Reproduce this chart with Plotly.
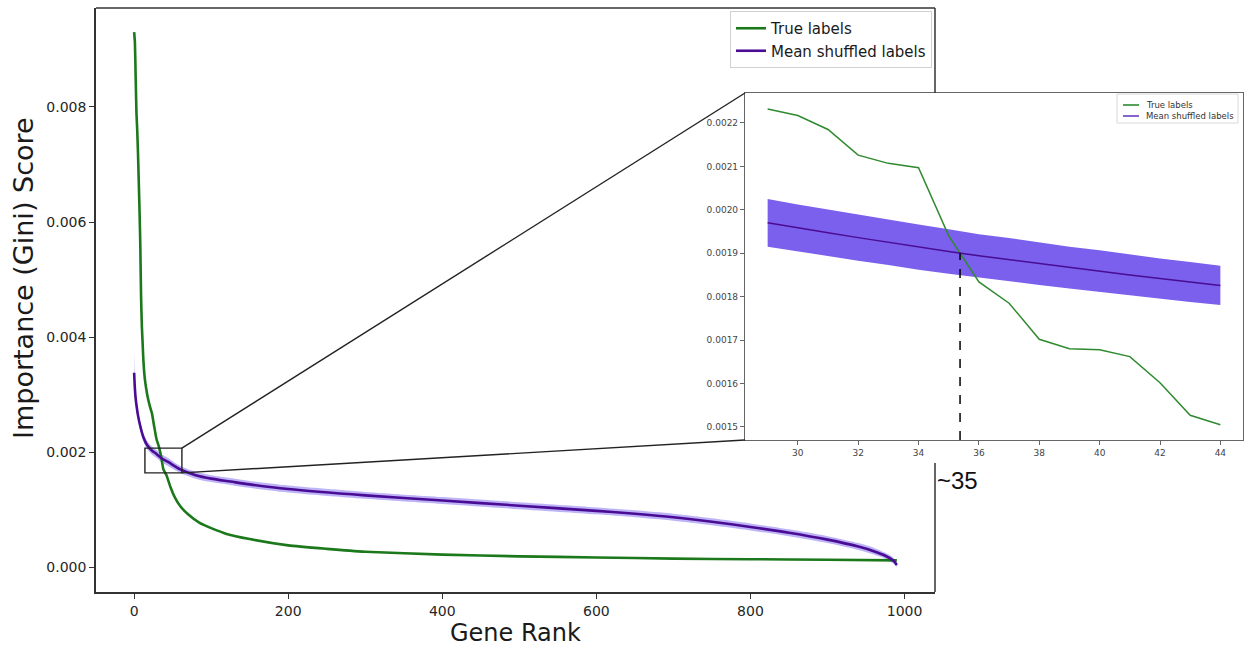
import plotly.graph_objects as go

W, H = 1244, 647

# ---- full ranking (main panel) ----
rank_true = [0, 1, 2, 3, 4, 5, 6, 7, 8, 9, 10, 11, 12, 14, 17, 20, 23, 26, 29, 32, 35,
             38, 42, 47, 53, 60, 70, 85, 100, 120, 150, 200, 250, 300, 400, 500, 600,
             700, 800, 900, 990]
score_true = [0.00930, 0.00912, 0.00850, 0.00790, 0.00760, 0.00720, 0.00670, 0.00620,
              0.00560, 0.00470, 0.00420, 0.00390, 0.00360, 0.00326, 0.00300, 0.00282,
              0.00268, 0.00245, 0.00223, 0.00210, 0.00193, 0.00170, 0.00160, 0.00140,
              0.00121, 0.00106, 0.00092, 0.00077, 0.00068, 0.00058, 0.00049, 0.00038,
              0.00032, 0.00027, 0.00022, 0.00019, 0.00017, 0.00015, 0.00014, 0.00013,
              0.00012]

rank_shuf = [0, 1, 2, 3, 5, 8, 12, 17, 23, 29, 36, 44, 60, 80, 100, 125, 150, 200, 300,
             400, 500, 600, 650, 700, 750, 800, 850, 900, 940, 960, 975, 985, 990]
score_shuf = [0.00338, 0.00310, 0.00293, 0.00282, 0.00264, 0.00245, 0.00226, 0.00212,
              0.00203, 0.00197, 0.00189, 0.00183, 0.00170, 0.00160, 0.00154, 0.00149,
              0.00144, 0.00136, 0.00125, 0.00116, 0.00107, 0.00098, 0.00093, 0.00087,
              0.00079, 0.00070, 0.00060, 0.00048, 0.00036, 0.00028, 0.00020, 0.00012,
              0.00004]
std_shuf = [0.00037, 0.00017, 0.00012, 0.00010, 0.00009, 0.00008, 0.00007, 0.00007,
            0.00007, 0.00007, 0.00007, 0.00007, 0.00006, 0.00006, 0.00006, 0.00006,
            0.00006, 0.00006, 0.00006, 0.00006, 0.00006, 0.00006, 0.00006, 0.00006,
            0.00006, 0.00006, 0.00006, 0.00006, 0.00006, 0.00006, 0.00005, 0.00005,
            0.00004]

# ---- zoomed ranks 29-44 (inset) ----
zoom_rank = [29, 30, 31, 32, 33, 34, 35, 36, 37, 38, 39, 40, 41, 42, 43, 44]
zoom_true = [0.002232, 0.002217, 0.002185, 0.002126, 0.002107, 0.002097, 0.001940,
             0.001834, 0.001785, 0.001702, 0.001680, 0.001678, 0.001662, 0.001602,
             0.001527, 0.001505]
zoom_shuf = [0.001970, 0.001958, 0.001947, 0.001936, 0.001925, 0.001914, 0.001904,
             0.001894, 0.001885, 0.001876, 0.001867, 0.001859, 0.001850, 0.001842,
             0.001834, 0.001826]
zoom_std = [0.000055, 0.000054, 0.000054, 0.000053, 0.000052, 0.000052, 0.000051,
            0.000050, 0.000050, 0.000049, 0.000048, 0.000048, 0.000047, 0.000046,
            0.000046, 0.000045]

series_names = ["True labels", "Mean shuffled labels"]

main_xticks = [0, 200, 400, 600, 800, 1000]
main_yticks = [0.000, 0.002, 0.004, 0.006, 0.008]
zoom_xticks = [30, 32, 34, 36, 38, 40, 42, 44]
zoom_yticks = [0.0015, 0.0016, 0.0017, 0.0018, 0.0019, 0.0020, 0.0021, 0.0022]

# zoom window marked on the main panel
box_rank = (14, 62)
box_score = (0.00164, 0.00207)

GREEN = "#1b781b"
GREEN_ZOOM = "#2f8a2f"
PURPLE = "#4a0c94"
BAND_MAIN = "rgba(123,104,238,0.5)"
BAND_ZOOM = "#7a60ec"
AXIS = "#333333"
FONT = "DejaVu Sans"

MAIN_X = [-49.5, 1039.5]
MAIN_Y = [-0.00043, 0.00972]
ZOOM_X = [28.25, 44.75]
ZOOM_Y = [0.00147, 0.002269]

# pixel layout of the two panels
main_px = dict(l=96, r=935, t=8, b=592)
zoom_px = dict(l=745, r=1243, t=93, b=440)


def px(x):
    return x / W


def py(y):
    return 1 - y / H


def main_to_px(xv, yv):
    fx = (xv - MAIN_X[0]) / (MAIN_X[1] - MAIN_X[0])
    fy = (yv - MAIN_Y[0]) / (MAIN_Y[1] - MAIN_Y[0])
    return (main_px["l"] + fx * (main_px["r"] - main_px["l"]),
            main_px["b"] - fy * (main_px["b"] - main_px["t"]))


fig = go.Figure()

# main panel: shuffled band, then lines
up = [m + s for m, s in zip(score_shuf, std_shuf)]
lo = [m - s for m, s in zip(score_shuf, std_shuf)]
fig.add_trace(go.Scatter(x=rank_shuf, y=up, mode="lines",
                         line=dict(width=0, shape="spline", smoothing=0.8),
                         showlegend=False, hoverinfo="skip"))
fig.add_trace(go.Scatter(x=rank_shuf, y=lo, mode="lines",
                         line=dict(width=0, shape="spline", smoothing=0.8),
                         fill="tonexty", fillcolor=BAND_MAIN, showlegend=False,
                         hoverinfo="skip"))
fig.add_trace(go.Scatter(x=rank_true, y=score_true, mode="lines", name=series_names[0],
                         line=dict(color=GREEN, width=2.6, shape="spline", smoothing=0.5),
                         legend="legend"))
fig.add_trace(go.Scatter(x=rank_shuf, y=score_shuf, mode="lines", name=series_names[1],
                         line=dict(color=PURPLE, width=2.6, shape="spline", smoothing=0.8),
                         legend="legend"))

# inset panel
zup = [m + s for m, s in zip(zoom_shuf, zoom_std)]
zlo = [m - s for m, s in zip(zoom_shuf, zoom_std)]
fig.add_trace(go.Scatter(x=zoom_rank, y=zup, mode="lines", line=dict(width=0),
                         xaxis="x2", yaxis="y2", showlegend=False, hoverinfo="skip"))
fig.add_trace(go.Scatter(x=zoom_rank, y=zlo, mode="lines", line=dict(width=0),
                         fill="tonexty", fillcolor=BAND_ZOOM, xaxis="x2", yaxis="y2",
                         showlegend=False, hoverinfo="skip"))
fig.add_trace(go.Scatter(x=zoom_rank, y=zoom_true, mode="lines", name=series_names[0],
                         line=dict(color=GREEN_ZOOM, width=1.5), xaxis="x2", yaxis="y2",
                         showlegend=False))
fig.add_trace(go.Scatter(x=zoom_rank, y=zoom_shuf, mode="lines", name=series_names[1],
                         line=dict(color=PURPLE, width=1.5), xaxis="x2", yaxis="y2",
                         showlegend=False))

# crossing point of the true and shuffled curves in the inset
cross_x, cross_y = None, None
for i in range(len(zoom_rank) - 1):
    d0 = zoom_true[i] - zoom_shuf[i]
    d1 = zoom_true[i + 1] - zoom_shuf[i + 1]
    if d0 > 0 >= d1:
        t = d0 / (d0 - d1)
        cross_x = zoom_rank[i] + t * (zoom_rank[i + 1] - zoom_rank[i])
        cross_y = zoom_shuf[i] + t * (zoom_shuf[i + 1] - zoom_shuf[i])
        break

shapes = []
# vertical dashed marker at the crossing
shapes.append(dict(type="line", xref="x2", yref="y2", x0=cross_x, x1=cross_x,
                   y0=ZOOM_Y[0], y1=cross_y,
                   line=dict(color="black", width=1.5, dash="dash")))
# zoom window on the main panel
shapes.append(dict(type="rect", xref="x", yref="y", x0=box_rank[0], x1=box_rank[1],
                   y0=box_score[0], y1=box_score[1],
                   line=dict(color="#222222", width=1.4)))
# connectors from the zoom window to the inset corners
bx, by_top = main_to_px(box_rank[1], box_score[1])
_, by_bot = main_to_px(box_rank[1], box_score[0])
shapes.append(dict(type="line", xref="paper", yref="paper", x0=px(bx), y0=py(by_top),
                   x1=px(zoom_px["l"]), y1=py(zoom_px["t"]),
                   line=dict(color="#222222", width=1.4)))
shapes.append(dict(type="line", xref="paper", yref="paper", x0=px(bx), y0=py(by_bot),
                   x1=px(zoom_px["l"]), y1=py(zoom_px["b"]),
                   line=dict(color="#222222", width=1.4)))
# top and right spines of the main panel (right one interrupted by the inset)
shapes.append(dict(type="line", xref="paper", yref="paper", x0=px(main_px["l"]),
                   x1=px(main_px["r"]), y0=py(main_px["t"]), y1=py(main_px["t"]),
                   line=dict(color=AXIS, width=1.5)))
shapes.append(dict(type="line", xref="paper", yref="paper", x0=px(main_px["r"]),
                   x1=px(main_px["r"]), y0=py(main_px["t"]), y1=py(zoom_px["t"]),
                   line=dict(color=AXIS, width=1.5)))
shapes.append(dict(type="line", xref="paper", yref="paper", x0=px(main_px["r"]),
                   x1=px(main_px["r"]), y0=py(463), y1=py(main_px["b"]),
                   line=dict(color=AXIS, width=1.5)))

# compact key inside the inset
key_box = dict(l=1117, r=1238, t=94, b=123)
key_rows = [105, 116]
key_colors = [GREEN_ZOOM, "#6a3fc0"]
shapes.append(dict(type="rect", xref="paper", yref="paper",
                   x0=px(key_box["l"]), x1=px(key_box["r"]),
                   y0=py(key_box["b"]), y1=py(key_box["t"]),
                   fillcolor="white", line=dict(color="#d8d8d8", width=1)))
for row, col in zip(key_rows, key_colors):
    shapes.append(dict(type="line", xref="paper", yref="paper",
                       x0=px(1123), x1=px(1139), y0=py(row), y1=py(row),
                       line=dict(color=col, width=1.6)))

annotations = [
    dict(text="Importance (Gini) Score", xref="paper", yref="paper", x=px(23), y=py(278),
         textangle=-90, showarrow=False, xanchor="center", yanchor="middle",
         font=dict(family=FONT, size=27, color="#1a1a1a")),
    dict(text="Gene Rank", xref="paper", yref="paper", x=px(515), y=py(633),
         showarrow=False, xanchor="center", yanchor="middle",
         font=dict(family=FONT, size=24, color="#1a1a1a")),
    dict(text="~35", xref="paper", yref="paper", x=px(935), y=py(480),
         showarrow=False, xanchor="left", yanchor="middle",
         font=dict(family="Liberation Sans, Arial", size=24, color="#111111")),
]
for row, name in zip(key_rows, series_names):
    annotations.append(dict(text=name, xref="paper", yref="paper", x=px(1144), y=py(row),
                            showarrow=False, xanchor="left", yanchor="middle",
                            font=dict(family=FONT, size=8.5, color="#333333")))

main_axis = dict(showgrid=False, zeroline=False, showline=True, linecolor=AXIS,
                 linewidth=1.5, ticks="outside", ticklen=5, tickwidth=1.2,
                 tickcolor=AXIS, tickfont=dict(family=FONT, size=14, color="#262626"))
zoom_axis = dict(showgrid=False, zeroline=False, showline=True, mirror=True,
                 linecolor="#666666", linewidth=1.2, ticks="outside", ticklen=4,
                 tickwidth=1, tickcolor="#666666",
                 tickfont=dict(family=FONT, size=9, color="#444444"))

fig.update_layout(
    width=W, height=H, autosize=False,
    margin=dict(l=0, r=0, t=0, b=0),
    paper_bgcolor="white", plot_bgcolor="white",
    xaxis=dict(main_axis, domain=[px(main_px["l"]), px(main_px["r"])], range=MAIN_X,
               tickvals=main_xticks, ticktext=[str(v) for v in main_xticks],
               anchor="y"),
    yaxis=dict(main_axis, domain=[py(main_px["b"]), py(main_px["t"])], range=MAIN_Y,
               tickvals=main_yticks, ticktext=[f"{v:.3f}" for v in main_yticks],
               anchor="x"),
    xaxis2=dict(zoom_axis, domain=[px(zoom_px["l"]), px(zoom_px["r"])], range=ZOOM_X,
                tickvals=zoom_xticks, ticktext=[str(v) for v in zoom_xticks],
                anchor="y2"),
    yaxis2=dict(zoom_axis, domain=[py(zoom_px["b"]), py(zoom_px["t"])], range=ZOOM_Y,
                tickvals=zoom_yticks, ticktext=[f"{v:.4f}" for v in zoom_yticks],
                anchor="x2"),
    legend=dict(x=px(932), y=py(11), xanchor="right", yanchor="top",
                bgcolor="white", bordercolor="#d0d0d0", borderwidth=1,
                font=dict(family=FONT, size=15, color="#1a1a1a"),
                traceorder="normal", tracegroupgap=0),
    shapes=shapes,
    annotations=annotations,
    showlegend=True,
)

fig.write_html("out.html")
